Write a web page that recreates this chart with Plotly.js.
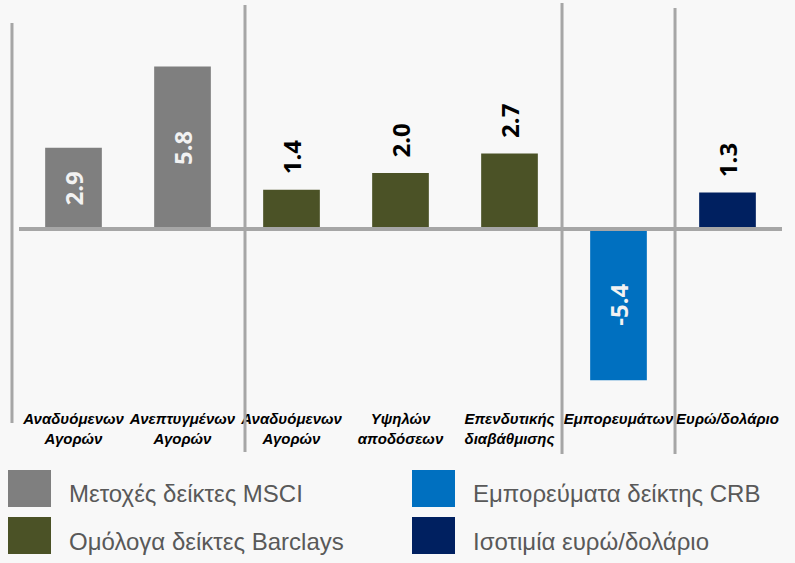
<!DOCTYPE html>
<html>
<head>
<meta charset="utf-8">
<script src="https://cdn.plot.ly/plotly-3.0.1.min.js"></script>
<style>html,body{margin:0;padding:0;background:#f8f8f8;}</style>
</head>
<body>
<div id="chart" style="width:795px;height:563px;"></div>
<script>
// Data
const categories = [
  "Αναδυόμενων<br>Αγορών",
  "Ανεπτυγμένων<br>Αγορών",
  "Αναδυόμενων<br>Αγορών",
  "Υψηλών<br>αποδόσεων",
  "Επενδυτικής<br>διαβάθμισης",
  "Εμπορευμάτων",
  "Ευρώ/δολάριο"
];
const values = [2.9, 5.8, 1.4, 2.0, 2.7, -5.4, 1.3];
const groupOfBar = [0, 0, 1, 1, 1, 2, 3];
const seriesNames = [
  "Μετοχές δείκτες MSCI",
  "Ομόλογα δείκτες Barclays",
  "Εμπορεύματα δείκτης CRB",
  "Ισοτιμία ευρώ/δολάριο"
];
const seriesColors = ["#7f7f7f", "#4b5226", "#0070c0", "#002060"];

const xIdx = categories.map((_, i) => i);
const isInside = values.map((v, i) => (groupOfBar[i] === 0 || v < 0));

const trace = {
  type: "bar",
  x: xIdx,
  y: values,
  width: 0.52,
  marker: { color: groupOfBar.map(g => seriesColors[g]) },
  text: values.map((v, i) => (isInside[i] ? "" : "\u00a0\u00a0") + v.toFixed(1)),
  textposition: isInside.map(b => b ? "inside" : "outside"),
  textangle: -90,
  insidetextanchor: "middle",
  constraintext: "none",
  cliponaxis: false,
  insidetextfont: { family: "Open Sans", size: 24, color: "#f2f2f2", weight: "bold" },
  outsidetextfont: { family: "Open Sans", size: 24, color: "#000000", weight: "bold" },
  hoverinfo: "none",
  showlegend: false
};

const shapes = [];
// zero line
shapes.push({ type: "line", xref: "paper", yref: "y", x0: 0, x1: 1, y0: 0, y1: 0,
  line: { color: "#a6a6a6", width: 4 } });
// vertical group separators [x, yTop, yBottom] in paper coords
const seps = [[-0.0092, 0.9425, -0.0575], [0.2962, 0.9875, -0.13], [0.7117, 0.9925, -0.135], [0.8598, 0.98, -0.135]];
seps.forEach(s => shapes.push({ type: "line", xref: "paper", yref: "paper",
  x0: s[0], x1: s[0], y0: s[2], y1: s[1], line: { color: "#a6a6a6", width: 3 } }));

// manual legend
const annotations = [];
const legPos = [[8, 470], [8, 517], [412, 470], [412, 517]]; // pixel positions of swatches
const PH = 400, L = 19, PW = 763;
seriesNames.forEach((n, k) => {
  const px = legPos[k][0], py = legPos[k][1];
  shapes.push({ type: "rect", xref: "paper", yref: "paper",
    x0: (px - L) / PW, x1: (px + 43 - L) / PW,
    y0: (PH - (py + 37)) / PH, y1: (PH - py) / PH,
    fillcolor: seriesColors[k], line: { width: 0 } });
  annotations.push({ xref: "paper", yref: "paper",
    x: (px + 59 - L) / PW, y: (PH - (py + 24)) / PH,
    xanchor: "left", yanchor: "middle", showarrow: false, text: n,
    font: { family: "Liberation Sans", size: 24, color: "#595959" } });
});

const layout = {
  width: 795, height: 563,
  margin: { l: 19, r: 13, t: 0, b: 163, pad: 0 },
  paper_bgcolor: "#f8f8f8",
  plot_bgcolor: "rgba(0,0,0,0)",
  xaxis: {
    range: [-0.5, 6.5],
    tickvals: xIdx,
    ticktext: categories,
    showgrid: false, zeroline: false, showline: false, ticks: "",
    ticklabelstandoff: 8,
    automargin: false,
    tickfont: { family: "Liberation Sans", size: 15, color: "#000", weight: "bold", style: "italic" },
    fixedrange: true
  },
  yaxis: {
    range: [-6.107, 8.179],
    showgrid: false, zeroline: false, showline: false, showticklabels: false, ticks: "",
    automargin: false, fixedrange: true
  },
  shapes: shapes,
  annotations: annotations,
  showlegend: false
};

Plotly.newPlot("chart", [trace], layout, { displayModeBar: false, staticPlot: true });
</script>
</body>
</html>
